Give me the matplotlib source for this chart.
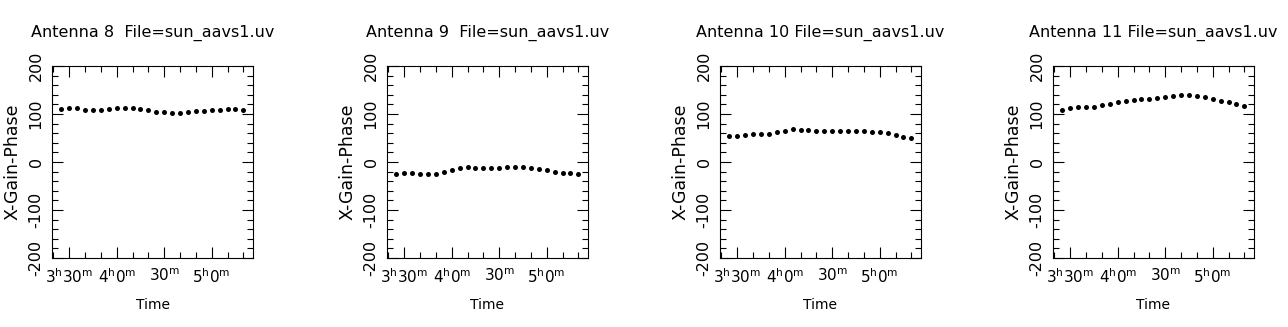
import matplotlib
matplotlib.use('Agg')
import matplotlib.pyplot as plt
from matplotlib.ticker import MultipleLocator

# Gain phase solutions, sampled every 5 min (time in minutes since 0h)
times_min = [205, 210, 215, 220, 225, 230, 235, 240, 245, 250, 255, 260,
             265, 270, 275, 280, 285, 290, 295, 300, 305, 310, 315, 320]

antennas = [8, 9, 10, 11]
phase_ant8 = [111, 113, 112, 109, 108, 109, 110, 112, 113, 112, 110, 108,
              105, 104, 103, 103, 105, 106, 107, 108, 108, 110, 110, 108]
phase_ant9 = [-24, -22, -23, -24, -25, -24, -20, -16, -12, -10, -12, -12,
              -12, -12, -10, -10, -10, -12, -15, -17, -21, -22, -23, -24]
phase_ant10 = [55, 55, 57, 58, 58, 59, 62, 65, 68, 67, 66, 65,
               65, 65, 65, 65, 65, 65, 63, 62, 60, 56, 53, 50]
phase_ant11 = [108, 112, 114, 114, 115, 118, 121, 124, 127, 130, 131, 131,
               133, 135, 138, 140, 140, 138, 135, 131, 127, 125, 120, 117]
phases = [phase_ant8, phase_ant9, phase_ant10, phase_ant11]

file_name = 'sun_aavs1.uv'
xtick_hours = [3.5, 4.0, 4.5, 5.0]
xtick_labels = [r'$3^{\rm h}30^{\rm m}$', r'$4^{\rm h}0^{\rm m}$',
                r'$30^{\rm m}$', r'$5^{\rm h}0^{\rm m}$']
ytick_values = [-200, -100, 0, 100, 200]

plt.rcParams['font.family'] = ['DejaVu Sans']
plt.rcParams['mathtext.fontset'] = 'dejavusans'

W, H = 1288, 327
fig = plt.figure(figsize=(W / 100, H / 100), dpi=100)

left_px = [52, 387, 720, 1053]
for i, ant in enumerate(antennas):
    ax = fig.add_axes([left_px[i] / W, 69 / H, 201 / W, 192 / H])
    hours = [t / 60 for t in times_min]
    ax.plot(hours, phases[i], 'o', color='black', ms=3.6, mew=0)

    ax.set_xlim(3.318, 5.435)
    ax.set_ylim(-200, 200)

    ax.set_xticks(xtick_hours)
    ax.set_xticklabels(xtick_labels, fontsize=11)
    ax.xaxis.set_minor_locator(MultipleLocator(10 / 60))
    ax.set_yticks(ytick_values)
    ax.set_yticklabels([str(v) for v in ytick_values], fontsize=11.5)
    ax.yaxis.set_minor_locator(MultipleLocator(20))
    plt.setp(ax.get_yticklabels(), rotation=90, va='center')

    ax.tick_params(which='both', direction='in', top=True, right=True, width=0.8)
    ax.tick_params(which='major', length=8)
    ax.tick_params(which='minor', length=4)
    ax.tick_params(axis='x', pad=7)
    ax.tick_params(axis='y', pad=6)
    for s in ax.spines.values():
        s.set_linewidth(0.8)

    ax.set_title(f'Antenna {ant:<2d} File={file_name}', fontsize=11.5, pad=21)
    ax.set_xlabel('Time', fontsize=10)
    ax.set_ylabel('X-Gain-Phase', fontsize=12.5)
    ax.xaxis.set_label_coords(0.5, -0.208)
    ax.yaxis.set_label_coords(-0.15, 0.5)

fig.savefig('out.png', dpi=100)
